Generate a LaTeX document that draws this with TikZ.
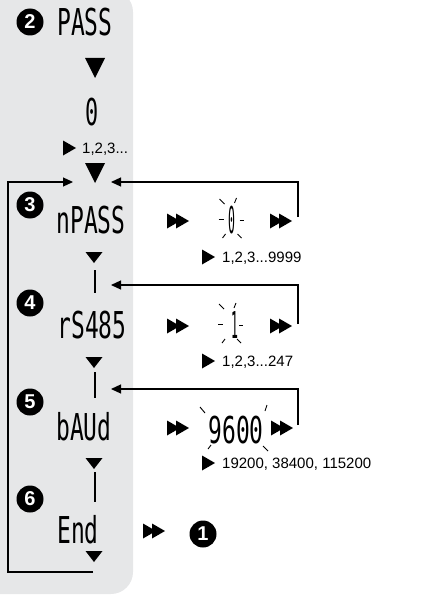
\documentclass[tikz,border=0pt]{standalone}
\usepackage{fontspec}
\setmainfont{Liberation Sans}
\newfontfamily\lcdfont{DejaVu Sans Mono}
\usetikzlibrary{arrows.meta}
\definecolor{panelgray}{HTML}{E6E7E8}

\tikzset{
  lcd/.style={font=\lcdfont\fontsize{37}{37}\selectfont, inner sep=0pt, anchor=base, xscale=0.62},
  numcirc/.style={circle, fill=black, text=white, inner sep=0pt, minimum size=27pt,
    font=\bfseries\fontsize{20}{20}\selectfont},
  rangelab/.style={font=\fontsize{15}{15}\selectfont, inner sep=0pt, anchor=base west},
  flow/.style={line width=1.2pt, -{Triangle[length=10pt, width=9pt]}},
  ray/.style={line width=0.9pt},
  bar/.style={line width=2.6pt},
  rtri/.pic={\fill (0,-7.5) -- (13,0) -- (0,7.5) -- cycle;},
  dbltri/.pic={\fill (0,-7.5) -- (13,0) -- (0,7.5) -- cycle;
                \fill (9,-7.5) -- (22,0) -- (9,7.5) -- cycle;},
  dtri/.pic={\fill (-8.5,0) -- (8.5,0) -- (0,11) -- cycle;},
  bigdtri/.pic={\fill (-10,0) -- (10,0) -- (0,20) -- cycle;}
}

\begin{document}
\begin{tikzpicture}[x=1pt, y=-1pt]
  \useasboundingbox (0,0) rectangle (446,607);

  % Menu panel
  \fill[panelgray, rounded corners=22pt] (-30,-10) rectangle (133,594);

  % Step 2: password
  \node[numcirc] (n2) at (30,22) {2};
  \node[lcd] (pass) at (85,36) {PASS};
  \pic at (95,58) {bigdtri};
  \node[lcd, xscale=0.95] (pass0) at (92.5,125) {0};
  \pic at (63,148) {rtri};
  \node[rangelab] (lab2) at (82,153) {1,2,3...};
  \pic at (95,163) {bigdtri};

  % Step 3: new password
  \node[numcirc] (n3) at (30,205) {3};
  \node[lcd] (npass) at (91,233) {nPASS};
  \pic at (167,221) {dbltri};
  \coordinate (c0) at (231.5,219);
  \node[lcd, xscale=0.5] (blink0) at (231.5,233) {0};
  \foreach \x/\y/\u/\v in {-12/-20/-7/-15, 5/-21/3/-16, -13/0/-8/0, 8/1/12/1, -6/15/-9/19, 6/15/10/19}
    \draw[ray] ([shift={(\x,\y)}]c0) -- ([shift={(\u,\v)}]c0);
  \pic at (270,221) {dbltri};
  \pic at (202,257) {rtri};
  \node[rangelab] (lab3) at (222,262) {1,2,3...9999};
  \pic at (94,252) {dtri};
  \draw[bar] (95,270) -- (95,293);

  % Step 4: RS485 address
  \node[numcirc] (n4) at (30,303) {4};
  \node[lcd] (rs485) at (92,338) {rS485};
  \pic at (167,326) {dbltri};
  \coordinate (c1) at (231,324);
  \node[lcd, xscale=0.5] (blink1) at (235,338) {1};
  \foreach \x/\y/\u/\v in {-12/-20/-7/-15, 5/-21/3/-16, -13/0/-8/0, 8/1/12/1, -6/15/-9/19, 6/15/10/19}
    \draw[ray] ([shift={(\x,\y)}]c1) -- ([shift={(\u,\v)}]c1);
  \pic at (270,326) {dbltri};
  \pic at (202,361) {rtri};
  \node[rangelab] (lab4) at (222,366) {1,2,3...247};
  \pic at (94,357) {dtri};
  \draw[bar] (95,372) -- (95,398);

  % Step 5: baud rate
  \node[numcirc] (n5) at (30,402) {5};
  \node[lcd] (baud) at (84,440) {bAUd};
  \pic at (167,428) {dbltri};
  \node[lcd] (b9600) at (236,443) {9600};
  \draw[ray] (200,407) -- (205,413);
  \draw[ray] (267,405) -- (265,411);
  \draw[ray] (211,445) -- (208,449);
  \draw[ray] (263,446) -- (268,451);
  \pic at (271,428) {dbltri};
  \pic at (202,463) {rtri};
  \node[rangelab] (lab5) at (222,468) {19200, 38400, 115200};
  \pic at (94,458) {dtri};
  \draw[bar] (95,472) -- (95,502);

  % Step 6: end
  \node[numcirc] (n6) at (30,499) {6};
  \node[lcd] (endd) at (78,543) {End};
  \pic at (94,551) {dtri};
  \pic at (143,531) {dbltri};
  \node[numcirc] (n1) at (203,534) {1};

  % Return paths
  \coordinate (jw) at (73,182);
  \coordinate (je) at (111,182);
  \coordinate (j4) at (111,285);
  \coordinate (j5) at (111,389);
  \coordinate (lpend) at (93,572);
  \coordinate (lpcorner) at (8,572);
  \coordinate (r3) at (298,217);
  \coordinate (r4) at (298,324);
  \coordinate (r5) at (298,425);
  \draw[flow] (lpend) -- (lpcorner) |- (jw);
  \draw[flow] (r3) |- (je);
  \draw[flow] (r4) |- (j4);
  \draw[flow] (r5) |- (j5);
\end{tikzpicture}
\end{document}
